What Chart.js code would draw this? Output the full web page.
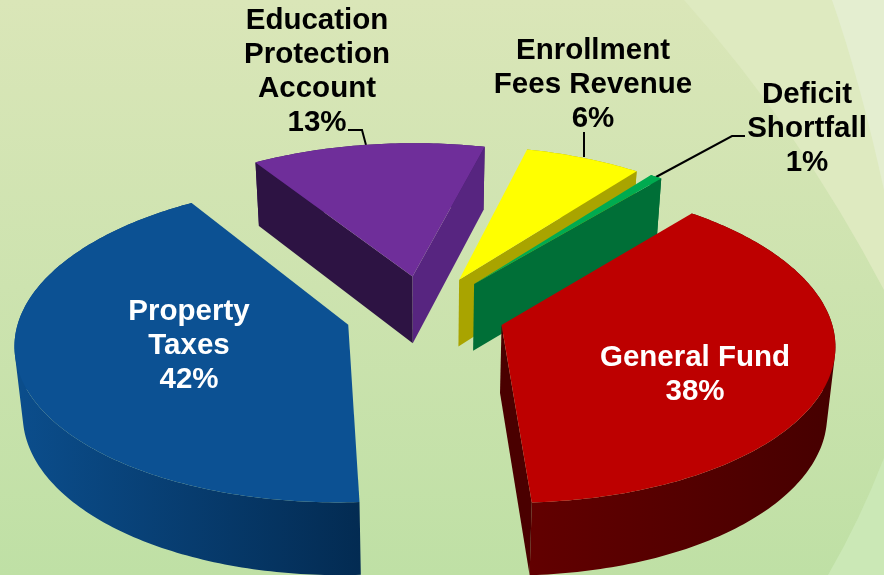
<!DOCTYPE html>
<html><head><meta charset="utf-8">
<style>html,body{margin:0;padding:0;overflow:hidden;background:#cde3af}canvas{display:block}</style>
<script src="https://cdn.jsdelivr.net/npm/chart.js@4"></script>
</head><body>
<div style="width:884px;height:575px"><canvas id="c" width="884" height="575"></canvas></div>
<script>
// Data (clockwise from the rotation start)
const categories = ['General Fund', 'Property Taxes', 'Education Protection Account', 'Enrollment Fees Revenue', 'Deficit Shortfall'];
const values = [38, 41.83, 13, 6.5, 0.67];
const explode = [80, 80, 80, 80, 80];

// Styles
const topColors  = ['#bd0000', '#0c5193', '#6f2e9a', '#ffff00', '#00ab50'];
const rimFrom    = ['#620000', '#0b4d8b', '#3a1a5c', '#a9a400', '#006f37'];
const rimTo      = ['#470000', '#032b52', '#3a1a5c', '#a9a400', '#006f37'];
const startFace  = ['#4a0000', '#032b52', '#2d1343', '#a9a400', '#006f37'];
const endFace    = ['#4a0000', '#032b52', '#572580', '#a9a400', '#006f37'];
const paintOrder = [2, 3, 4, 1, 0];

// Text layout: [lines, centre x, first line y, colour]
const labelLayout = [
  [['General Fund', '38%'], 695, 358, '#ffffff'],
  [['Property', 'Taxes', '42%'], 189, 312, '#ffffff'],
  [['Education', 'Protection', 'Account', '13%'], 317, 21, '#000000'],
  [['Enrollment', 'Fees Revenue', '6%'], 593, 51, '#000000'],
  [['Deficit', 'Shortfall', '1%'], 807, 95, '#000000']
];
const leaders = [
  [[348,130],[362,130],[366,145]],
  [[584,132],[584,157]],
  [[745,136],[732,136],[656,177]]
];

// View
const VIEW = { squash: 0.474, far: 3000, depth: 69, drop: 3350 };

function project(arc, X, Y, z) {
  const w = 1 - Y / VIEW.far;
  const d = 1 + z / VIEW.drop;
  return [arc.x + X / (w * d), arc.y + VIEW.squash * Y / (w * d) + z / (w * d)];
}
function arcPoints(arc) {
  const off = arc.options.offset;
  const mid = (arc.startAngle + arc.endAngle) / 2;
  const ax = Math.cos(mid) * off, ay = Math.sin(mid) * off;
  const pts = [];
  const n = Math.max(4, Math.ceil((arc.endAngle - arc.startAngle) * 60));
  for (let i = 0; i <= n; i++) {
    const t = arc.startAngle + (arc.endAngle - arc.startAngle) * i / n;
    pts.push([ax + Math.cos(t) * arc.outerRadius, ay + Math.sin(t) * arc.outerRadius]);
  }
  return { ax, ay, pts };
}
function poly(ctx, list, fill) {
  ctx.beginPath();
  list.forEach((p, i) => i ? ctx.lineTo(p[0], p[1]) : ctx.moveTo(p[0], p[1]));
  ctx.closePath();
  ctx.fillStyle = fill;
  ctx.fill();
}
function quadArea(q) {
  let a = 0;
  q.forEach((p, i) => { const n = q[(i + 1) % 4]; a += p[0] * n[1] - n[0] * p[1]; });
  return a;
}

const pie3d = {
  id: 'pie3d',
  beforeDraw(chart) {
    const { ctx, width: W, height: H } = chart;
    ctx.save();
    const g = ctx.createLinearGradient(0, 0, 0, H);
    g.addColorStop(0, '#dae6b8');
    g.addColorStop(0.5, '#cde3af');
    g.addColorStop(1, '#bfe0a5');
    ctx.fillStyle = g;
    ctx.fillRect(0, 0, W, H);
    // swooshes
    ctx.fillStyle = '#deeac0';
    ctx.beginPath();
    ctx.moveTo(684, 0); ctx.lineTo(884, 0); ctx.lineTo(884, 290);
    ctx.quadraticCurveTo(800, 130, 684, 0);
    ctx.closePath(); ctx.fill();
    ctx.fillStyle = '#e4eed0';
    ctx.beginPath();
    ctx.moveTo(832, 0); ctx.lineTo(884, 0); ctx.lineTo(884, 190);
    ctx.quadraticCurveTo(860, 80, 832, 0);
    ctx.closePath(); ctx.fill();
    ctx.fillStyle = '#cbe8b6';
    ctx.beginPath();
    ctx.moveTo(884, 458); ctx.quadraticCurveTo(860, 520, 828, 575); ctx.lineTo(884, 575);
    ctx.closePath(); ctx.fill();
    ctx.restore();
  },
  beforeDatasetsDraw(chart) {
    const { ctx } = chart;
    const arcs = chart.getDatasetMeta(0).data;
    // leader lines sit behind the slices
    ctx.save();
    ctx.strokeStyle = '#000'; ctx.lineWidth = 2;
    leaders.forEach(l => { ctx.beginPath(); l.forEach((p, i) => i ? ctx.lineTo(p[0], p[1]) : ctx.moveTo(p[0], p[1])); ctx.stroke(); });
    paintOrder.forEach(i => {
      const arc = arcs[i];
      const { ax, ay, pts } = arcPoints(arc);
      const D = VIEW.depth;
      const topArc = pts.map(p => project(arc, p[0], p[1], 0));
      const botArc = pts.map(p => project(arc, p[0], p[1], D));
      const aT = project(arc, ax, ay, 0), aB = project(arc, ax, ay, D);
      // rim: all step quads in one path with one winding, so no seams show
      const xs = botArc.map(p => p[0]);
      const minX = Math.min(...xs), maxX = Math.max(...xs);
      const g = ctx.createLinearGradient(i === 1 ? minX : maxX, 0, i === 1 ? maxX : minX, 0);
      g.addColorStop(0, i === 0 ? rimTo[i] : rimFrom[i]);
      g.addColorStop(1, i === 0 ? rimFrom[i] : rimTo[i]);
      ctx.beginPath();
      for (let k = 0; k < topArc.length - 1; k++) {
        let q = [topArc[k], topArc[k + 1], botArc[k + 1], botArc[k]];
        if (quadArea(q) < 0) q = q.reverse();
        q.forEach((p, j) => j ? ctx.lineTo(p[0], p[1]) : ctx.moveTo(p[0], p[1]));
        ctx.closePath();
      }
      ctx.fillStyle = g;
      ctx.fill('nonzero');
      // cut faces, only those turned to the viewer
      const s = topArc[0], e = topArc[topArc.length - 1];
      if (s[0] - aT[0] < 0) poly(ctx, [aT, s, botArc[0], aB], startFace[i]);
      if (e[0] - aT[0] > 0) poly(ctx, [aT, e, botArc[botArc.length - 1], aB], endFace[i]);
      // top
      poly(ctx, [aT].concat(topArc), topColors[i]);
    });
    // labels
    ctx.font = 'bold 29.5px "Liberation Sans", Arial, sans-serif';
    ctx.textAlign = 'center';
    ctx.textBaseline = 'middle';
    labelLayout.forEach(([lines, x, y, col]) => {
      ctx.fillStyle = col;
      lines.forEach((t, k) => ctx.fillText(t, x, y + k * 34));
    });
    ctx.restore();
    return false;
  }
};

new Chart(document.getElementById('c'), {
  type: 'pie',
  data: {
    labels: categories,
    datasets: [{ data: values, backgroundColor: topColors, offset: explode, radius: 328, borderWidth: 0 }]
  },
  options: {
    responsive: false,
    animation: false,
    rotation: 40,
    layout: { padding: { right: 34, top: 51 } },
    plugins: { legend: { display: false }, tooltip: { enabled: false } }
  },
  plugins: [pie3d]
});
</script>
</body></html>
